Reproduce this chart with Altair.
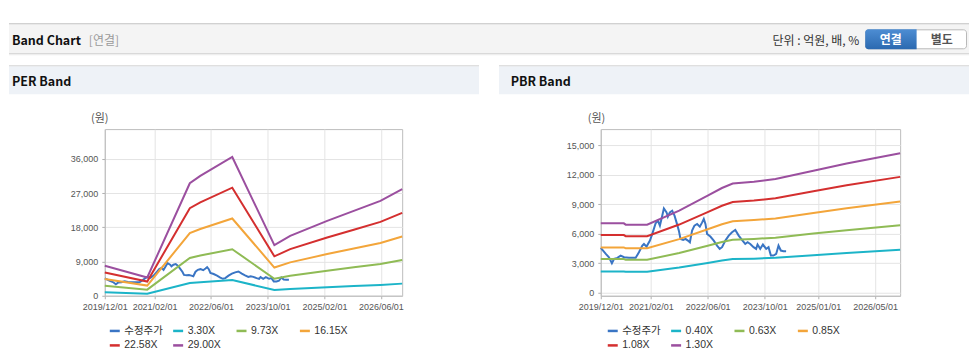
import altair as alt
import pandas as pd

# ---------------- data ----------------
price_dates = [
    "2019-12-01", "2020-01-13", "2020-02-09", "2020-03-05", "2020-03-24", "2020-04-21",
    "2020-05-19", "2020-06-17", "2020-07-29", "2020-09-24", "2020-10-22", "2020-11-20",
    "2020-12-04", "2020-12-26", "2021-01-24", "2021-02-13", "2021-03-13", "2021-04-02",
    "2021-04-19", "2021-05-09", "2021-05-23", "2021-06-15", "2021-06-26", "2021-07-13",
    "2021-08-02", "2021-08-22", "2021-09-08", "2021-09-28", "2021-10-12", "2021-11-04",
    "2021-11-24", "2021-12-14", "2021-12-31", "2022-01-19", "2022-02-08", "2022-03-03",
    "2022-03-26", "2022-04-15", "2022-04-29", "2022-05-13", "2022-05-27", "2022-06-24",
    "2022-07-23", "2022-08-20", "2022-09-12", "2022-10-02", "2022-10-30", "2022-11-28",
    "2022-12-26", "2023-01-23", "2023-02-21", "2023-03-21", "2023-04-18", "2023-05-08",
    "2023-05-31", "2023-06-28", "2023-07-20", "2023-08-01", "2023-08-24", "2023-09-16",
    "2023-10-14", "2023-11-03", "2023-11-23", "2023-12-16", "2024-01-07", "2024-01-27",
    "2024-02-16", "2024-03-10", "2024-04-01",
]
price_values = [
    4560, 3950, 3600, 3000, 3450, 3550,
    3780, 3610, 3550, 3550, 4110, 4790,
    4960, 4690, 5300, 5980, 7050, 7330,
    6820, 7830, 8570, 8170, 7730, 8170,
    8340, 7830, 7150, 6310, 5470, 5370,
    5470, 5300, 5130, 6310, 6820, 6990,
    6720, 7150, 7500, 6990, 5980, 5710,
    5300, 4790, 4460, 4630, 5300, 5810,
    6150, 6380, 5810, 5370, 4960, 5130,
    4960, 4630, 4460, 4900, 4460, 4900,
    4460, 4630, 3780, 3780, 3950, 4790,
    4290, 4220, 4220,
]

per_dates = ["2019-12-01", "2020-11-30", "2021-12-01", "2022-03-01", "2022-12-01", "2023-11-28",
             "2024-04-12", "2025-02-24", "2025-10-11", "2026-05-28", "2026-12-01"]
per_3_30 = [900, 550, 3370, 3580, 4150, 1510, 1790, 2240, 2540, 2840, 3190]
per_9_73 = [2640, 1610, 9920, 10570, 12240, 4460, 5280, 6600, 7480, 8360, 9390]
per_16_15 = [4380, 2670, 16470, 17540, 20310, 7410, 8770, 10960, 12420, 13880, 15590]
per_22_58 = [6130, 3740, 23020, 24520, 28400, 10360, 12260, 15320, 17360, 19410, 21800]
per_29_00 = [7870, 4800, 29570, 31490, 36470, 13300, 15740, 19680, 22300, 24930, 28000]

pbr_dates = ["2019-12-01", "2020-06-15", "2020-07-01", "2020-12-31", "2021-10-01", "2022-06-01",
             "2022-10-01", "2023-01-01", "2023-07-01", "2024-01-01", "2024-11-20", "2025-08-31",
             "2026-12-01"]
pbr_0_40 = [2170, 2170, 2130, 2130, 2570, 3030, 3270, 3420, 3470, 3550, 3820, 4040, 4360]
pbr_0_63 = [3420, 3420, 3350, 3350, 4040, 4780, 5160, 5380, 5470, 5600, 6010, 6360, 6870]
pbr_0_85 = [4610, 4610, 4520, 4520, 5450, 6450, 6960, 7260, 7380, 7550, 8110, 8590, 9260]
pbr_1_08 = [5860, 5860, 5750, 5750, 6930, 8190, 8840, 9220, 9370, 9600, 10300, 10910, 11770]
pbr_1_30 = [7050, 7050, 6920, 6920, 8340, 9860, 10640, 11100, 11280, 11550, 12400, 13130, 14170]

price_name = "수정주가"
per_names = ["3.30X", "9.73X", "16.15X", "22.58X", "29.00X"]
pbr_names = ["0.40X", "0.63X", "0.85X", "1.08X", "1.30X"]
series_colors = ["#3a75c4", "#1cb4c8", "#8fbb55", "#f3a53a", "#d42f2f", "#9b4f9f"]

per_xticks = [(2019, 12), (2021, 2), (2022, 6), (2023, 10), (2025, 2), (2026, 6)]
pbr_xticks = [(2019, 12), (2021, 2), (2022, 6), (2023, 10), (2025, 1), (2026, 5)]
per_yticks = [0, 9000, 18000, 27000, 36000]
pbr_yticks = [0, 3000, 6000, 9000, 12000, 15000]
per_ydomain = [0, 43800]
pbr_ydomain = [-300, 16620]

FONT = "Liberation Sans, Noto Sans CJK KR"
KFONT = "Noto Sans CJK KR"


def long_frame(dates, bands, names):
    rows = [{"date": d, "value": v, "series": price_name} for d, v in zip(price_dates, price_values)]
    for name, vals in zip(names, bands):
        rows += [{"date": d, "value": v, "series": name} for d, v in zip(dates, vals)]
    return pd.DataFrame(rows)


per_df = long_frame(per_dates, [per_3_30, per_9_73, per_16_15, per_22_58, per_29_00], per_names)
pbr_df = long_frame(pbr_dates, [pbr_0_40, pbr_0_63, pbr_0_85, pbr_1_08, pbr_1_30], pbr_names)

one = pd.DataFrame({"k": [0]})


def dt(y, m, d=1):
    return alt.DateTime(year=y, month=m, date=d, utc=True)


def rect(x1, x2, y1, y2, ox, oy, **kw):
    return alt.Chart(one).mark_rect(**kw).encode(
        x=alt.value(x1 - ox), x2=alt.value(x2 - ox), y=alt.value(y1 - oy), y2=alt.value(y2 - oy))


def hline(x1, x2, y, ox, oy, color):
    # 1px line drawn as a thin rect (no stroke -> exact bounds)
    return rect(x1, x2, y, y + 1, ox, oy, color=color)


def label(s, x, y, ox, oy, **kw):
    kw.setdefault("font", FONT)
    kw.setdefault("baseline", "alphabetic")
    return alt.Chart(one).mark_text(text=s, **kw).encode(x=alt.value(x - ox), y=alt.value(y - oy))


def band_chart(df, names, xticks, yticks, ydomain, width, legend_x):
    domain = [price_name] + names
    return alt.Chart(df).mark_line(strokeWidth=2).encode(
        x=alt.X("date:T",
                scale=alt.Scale(type="utc", domain=[dt(2019, 12), dt(2026, 12)]),
                axis=alt.Axis(values=[dt(y, m) for y, m in xticks],
                              labelExpr="utcFormat(datum.value, '%Y/%m/%d')",
                              title=None, grid=True, labelOverlap=False,
                              labelFlush=False, tickSize=3, labelPadding=4)),
        y=alt.Y("value:Q",
                scale=alt.Scale(domain=ydomain, nice=False, zero=False),
                axis=alt.Axis(values=yticks, labelExpr="format(datum.value, ',d')",
                              title=None, grid=True,
                              labelFlush=False, tickSize=3, labelPadding=4)),
        color=alt.Color("series:N",
                        scale=alt.Scale(domain=domain, range=series_colors),
                        legend=alt.Legend(title=None, orient="none", legendX=legend_x, legendY=195.75,
                                          direction="horizontal", columns=4, gridAlign="all",
                                          columnPadding=4.5, rowPadding=2.5, padding=0,
                                          symbolType="stroke", symbolSize=100, symbolStrokeWidth=2.5,
                                          labelFont=FONT, labelFontSize=10.5, labelColor="#333",
                                          labelOffset=3, labelLimit=200)),
        detail="series:N",
    ).properties(width=width, height=167)


# ---------------- left panel (PER) ----------------
LX, LY = 104, 128
left_deco = [
    rect(8, 970, 22, 53, LX, LY, color="#f4f4f4"),
    hline(8, 970, 22, LX, LY, "#c4c4c4"),
    hline(8, 970, 52, LX, LY, "#d0d0d0"),
    hline(8, 970, 53, LX, LY, "#ececec"),
    label("Band Chart", 11, 43.5, LX, LY, align="left", font=KFONT, fontSize=12.5, fontWeight="bold", color="#111"),
    label("[연결]", 88, 43.5, LX, LY, align="left", font=KFONT, fontSize=12, color="#9a9a9a"),
    label("단위 : 억원, 배, %", 860, 43.5, LX, LY, align="right", font=KFONT, fontSize=12, color="#333"),
    rect(866.5, 967.5, 28.5, 47.5, LX, LY, fill="#ffffff", stroke="#b9b9b9", strokeWidth=1, cornerRadius=3),
    rect(866, 917.5, 28, 48, LX, LY,
         color=alt.LinearGradient(gradient="linear",
                                  stops=[alt.GradientStop(offset=0, color="#4d8dd3"),
                                         alt.GradientStop(offset=1, color="#2b69b0")],
                                  x1=0, x2=0, y1=0, y2=1),
         cornerRadiusTopLeft=3, cornerRadiusBottomLeft=3),
    label("연결", 891.7, 43, LX, LY, align="center", font=KFONT, fontSize=12, fontWeight="bold", color="#ffffff"),
    label("별도", 942.7, 43, LX, LY, align="center", font=KFONT, fontSize=12, fontWeight="bold", color="#555"),
    rect(8, 479, 65, 93, LX, LY, color="#eef2f7"),
    hline(8, 479, 64, LX, LY, "#d4d4d4"),
    label("PER Band", 11, 84.7, LX, LY, align="left", font=KFONT, fontSize=12.5, fontWeight="bold", color="#111"),
    label("(원)", 99, 118, LX, LY, align="center", baseline="middle", font=KFONT, fontSize=11, color="#555"),
]
left = alt.layer(*left_deco,
                 band_chart(per_df, per_names, per_xticks, per_yticks, per_ydomain, 298, 3.5))

# ---------------- right panel (PBR) ----------------
RX, RY = 601, 128
right_deco = [
    rect(499, 970, 65, 93, RX, RY, color="#eef2f7"),
    hline(499, 970, 64, RX, RY, "#d4d4d4"),
    label("PBR Band", 510.7, 84.7, RX, RY, align="left", font=KFONT, fontSize=12.5, fontWeight="bold", color="#111"),
    label("(원)", 596.7, 118, RX, RY, align="center", baseline="middle", font=KFONT, fontSize=11, color="#555"),
]
right = alt.layer(*right_deco,
                  band_chart(pbr_df, pbr_names, pbr_xticks, pbr_yticks, pbr_ydomain, 300, 5.5))

chart = alt.hconcat(left, right, spacing=199, bounds="flush").resolve_scale(
    x="independent", y="independent", color="independent"
).resolve_legend(color="independent").properties(
    padding={"left": 0, "top": 14, "right": 0, "bottom": 0},
    background="#ffffff",
).configure_view(stroke="#bdbdbd").configure_axis(
    labelFont=FONT, labelFontSize=9, labelColor="#555",
    tickColor="#b0b0b0", domainColor="#bdbdbd", gridColor="#e4e4e4",
)

chart.save("out.html", embed_options={"renderer": "svg", "actions": False})
